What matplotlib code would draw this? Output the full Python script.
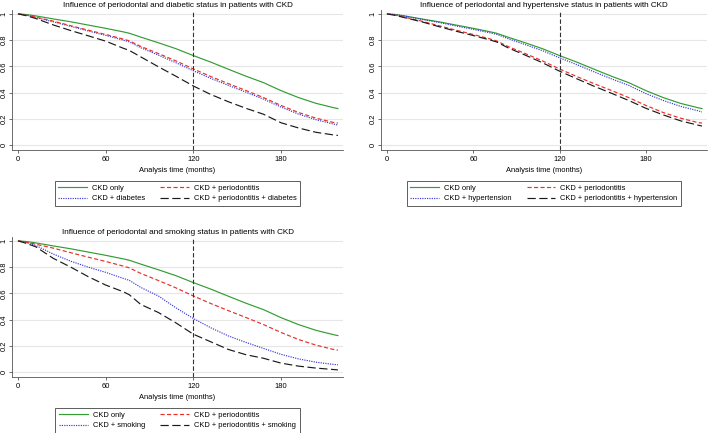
import matplotlib
matplotlib.use("Agg")
import matplotlib.pyplot as plt
from matplotlib.lines import Line2D

plt.rcParams['font.family'] = ['Liberation Sans', 'DejaVu Sans']

# analysis time grid (months)
months = [0, 6, 12, 24, 36, 48, 60, 72, 76, 84, 96, 108, 120, 132, 144,
          156, 168, 180, 192, 204, 216, 219]

# survival estimates
ckd_only = [1.0, 0.995, 0.985, 0.962, 0.94, 0.915, 0.89, 0.863, 0.853, 0.823,
            0.78, 0.735, 0.682, 0.632, 0.578, 0.525, 0.476, 0.415, 0.362,
            0.318, 0.285, 0.278]
ckd_perio = [1.0, 0.99, 0.975, 0.945, 0.91, 0.876, 0.843, 0.808, 0.795, 0.752,
             0.698, 0.642, 0.58, 0.522, 0.468, 0.416, 0.362, 0.302, 0.248,
             0.205, 0.172, 0.167]
ckd_diab = [1.0, 0.99, 0.973, 0.94, 0.905, 0.87, 0.836, 0.8, 0.787, 0.742,
            0.686, 0.628, 0.566, 0.508, 0.455, 0.403, 0.35, 0.29, 0.236,
            0.193, 0.16, 0.152]
ckd_perio_diab = [1.0, 0.985, 0.965, 0.916, 0.873, 0.833, 0.792, 0.738, 0.722,
                  0.672, 0.597, 0.525, 0.45, 0.385, 0.33, 0.28, 0.235, 0.17,
                  0.13, 0.097, 0.077, 0.073]
ckd_ht = [1.0, 0.995, 0.984, 0.958, 0.935, 0.908, 0.882, 0.855, 0.845, 0.812,
          0.766, 0.72, 0.665, 0.613, 0.558, 0.505, 0.455, 0.392, 0.34, 0.295,
          0.262, 0.252]
ckd_perio_ht = [1.0, 0.988, 0.972, 0.94, 0.903, 0.868, 0.835, 0.8, 0.787,
                0.742, 0.686, 0.628, 0.563, 0.505, 0.448, 0.395, 0.34, 0.28,
                0.23, 0.185, 0.152, 0.145]
ckd_smoke = [1.0, 0.985, 0.965, 0.9, 0.845, 0.8, 0.76, 0.714, 0.7, 0.645,
             0.58, 0.49, 0.408, 0.337, 0.275, 0.226, 0.18, 0.135, 0.1, 0.075,
             0.058, 0.055]
ckd_perio_smoke = [1.0, 0.98, 0.955, 0.867, 0.8, 0.727, 0.663, 0.612, 0.59,
                   0.515, 0.454, 0.375, 0.288, 0.23, 0.172, 0.132, 0.105,
                   0.068, 0.045, 0.03, 0.019, 0.016]

x_ticks = [0, 60, 120, 180]
y_ticks = [0, 0.2, 0.4, 0.6, 0.8, 1]
y_ticklabels = ['0', '0.2', '0.4', '0.6', '0.8', '1']
cutoff = 120

GREEN = '#339c33'
RED = '#e8302a'
BLUE = '#3838d8'
BLACK = '#1a1a1a'
FS = 5.4

W, H = 709, 433


def panel(rect, title, factor, s_factor, s_perio_factor):
    x0, y_top, w, h = rect
    ax = fig.add_axes([x0 / W, 1 - (y_top + h) / H, w / W, h / H])
    styles = [
        ('CKD only', ckd_only, GREEN, '-'),
        (f'CKD + {factor}', s_factor, BLUE, (0, (1, 1))),
        ('CKD + periodontitis', ckd_perio, RED, (0, (3.5, 2))),
        (f'CKD + periodontitis + {factor}', s_perio_factor, BLACK, (0, (7, 3))),
    ]
    handles = []
    for label, vals, col, ls in styles:
        ax.plot(months, vals, color=col, linestyle=ls, lw=0.85)
        handles.append(Line2D([], [], color=col, linestyle=ls, lw=0.85,
                              label=label))
    ax.axvline(cutoff, color='#333333', linestyle=(0, (4, 2)), lw=0.8)

    ax.set_xlim(-4.3, 222.5)
    ax.set_ylim(-0.038, 1.03)
    ax.set_xticks(x_ticks)
    ax.set_yticks(y_ticks)
    ax.set_yticklabels(y_ticklabels, rotation=90, va='center')
    ax.grid(axis='y', color='#e6e6e6', lw=0.8)
    ax.set_axisbelow(True)
    for side in ('top', 'right'):
        ax.spines[side].set_visible(False)
    for side in ('left', 'bottom'):
        ax.spines[side].set_color('#555555')
        ax.spines[side].set_linewidth(0.6)
    ax.tick_params(labelsize=FS, length=2.2, width=0.6, color='#555555',
                   pad=2)
    ax.tick_params(axis='y', pad=0.8)
    ax.set_xlabel('Analysis time (months)', fontsize=FS, labelpad=3)
    ax.set_title(title, fontsize=5.9, pad=2.5)

    leg = ax.legend(handles=handles, ncol=2, loc='upper center',
                    bbox_to_anchor=(0.5, -0.192), fontsize=FS,
                    handlelength=3.8, handletextpad=0.7, columnspacing=2.0,
                    labelspacing=0.45, borderpad=0.5, fancybox=False,
                    frameon=True)
    leg.get_frame().set_edgecolor('#333333')
    leg.get_frame().set_linewidth(0.7)
    return ax


fig = plt.figure(figsize=(W / 100, H / 100), dpi=100)

panel((12, 10, 331, 140),
      'Influence of periodontal and diabetic status in patients with CKD',
      'diabetes', ckd_diab, ckd_perio_diab)
panel((381, 10, 326, 140),
      'Influence of periodontal and hypertensive status in patients with CKD',
      'hypertension', ckd_ht, ckd_perio_ht)
panel((12, 237, 331, 140),
      'Influence of periodontal and smoking status in patients with CKD',
      'smoking', ckd_smoke, ckd_perio_smoke)

fig.savefig('out.png', dpi=100)
